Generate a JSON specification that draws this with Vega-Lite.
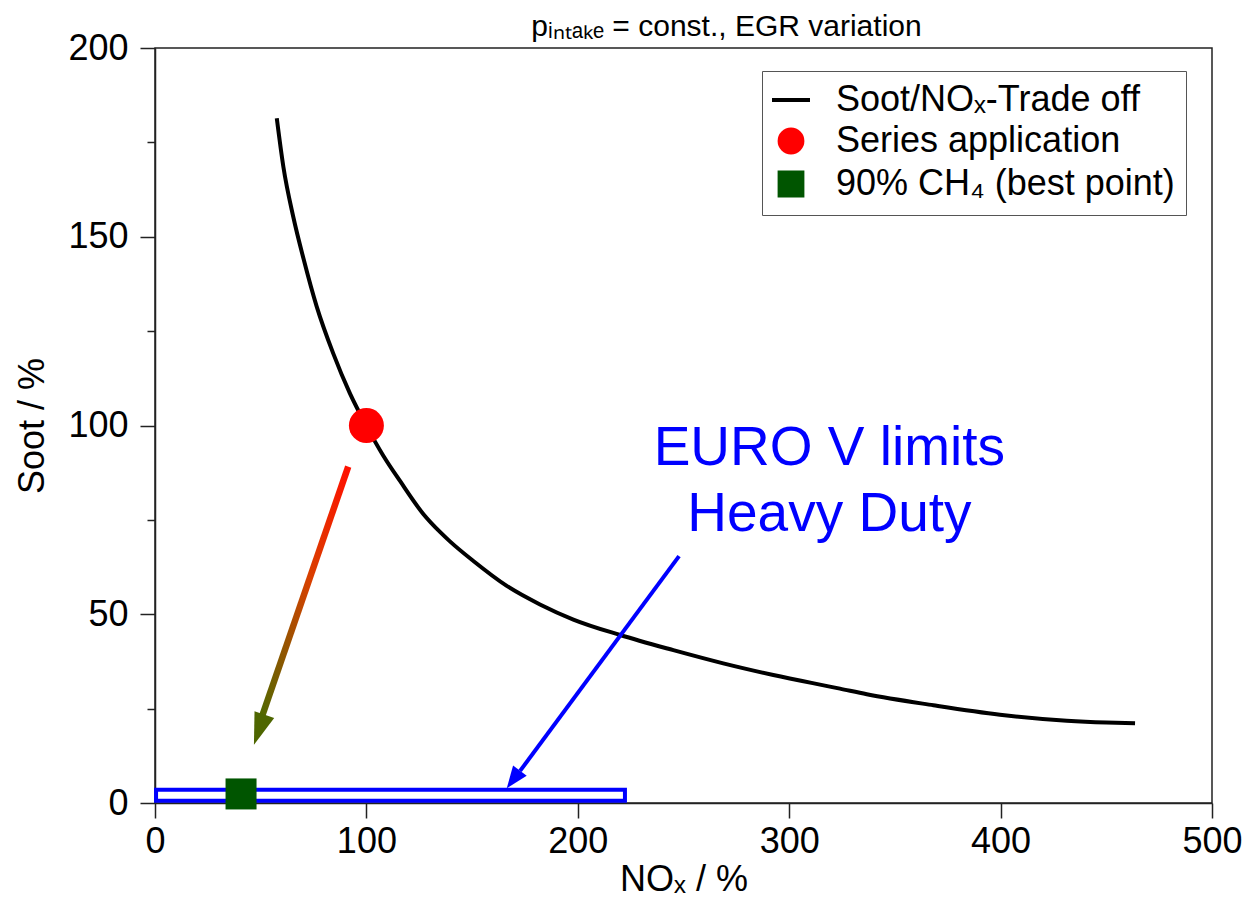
{
  "$schema": "https://vega.github.io/schema/vega-lite/v6.json",
  "width": 1057,
  "height": 755,
  "autosize": "none",
  "padding": {"left": 155, "top": 48, "right": 44, "bottom": 110},
  "background": "white",
  "config": {
    "font": "Liberation Sans",
    "view": {"stroke": "#222", "strokeWidth": 1.5}
  },
  "title": {
    "text": "pᵢₙₜₐₖₑ = const., EGR variation",
    "fontSize": 30,
    "fontWeight": "normal",
    "color": "black",
    "font": "Liberation Sans Narrow, Liberation Sans",
    "frame": "group",
    "baseline": "alphabetic",
    "offset": -36,
    "dx": 43
  },
  "datasets": {
    "curve": [
      {"nox": 57.6, "soot": 181.4, "series": "Soot/NOₓ-Trade off"},
      {"nox": 60.7, "soot": 168.6, "series": "Soot/NOₓ-Trade off"},
      {"nox": 65.4, "soot": 155.3, "series": "Soot/NOₓ-Trade off"},
      {"nox": 70.2, "soot": 144.3, "series": "Soot/NOₓ-Trade off"},
      {"nox": 76.5, "soot": 131.5, "series": "Soot/NOₓ-Trade off"},
      {"nox": 84.3, "soot": 119.1, "series": "Soot/NOₓ-Trade off"},
      {"nox": 92.2, "soot": 108.5, "series": "Soot/NOₓ-Trade off"},
      {"nox": 99.8, "soot": 100.1, "series": "Soot/NOₓ-Trade off"},
      {"nox": 108, "soot": 92.0, "series": "Soot/NOₓ-Trade off"},
      {"nox": 115.9, "soot": 85.3, "series": "Soot/NOₓ-Trade off"},
      {"nox": 127, "soot": 76.5, "series": "Soot/NOₓ-Trade off"},
      {"nox": 134.8, "soot": 71.8, "series": "Soot/NOₓ-Trade off"},
      {"nox": 139.5, "soot": 69.3, "series": "Soot/NOₓ-Trade off"},
      {"nox": 150.6, "soot": 64.1, "series": "Soot/NOₓ-Trade off"},
      {"nox": 166.4, "soot": 57.5, "series": "Soot/NOₓ-Trade off"},
      {"nox": 182.1, "soot": 52.6, "series": "Soot/NOₓ-Trade off"},
      {"nox": 197.9, "soot": 48.6, "series": "Soot/NOₓ-Trade off"},
      {"nox": 220, "soot": 44.5, "series": "Soot/NOₓ-Trade off"},
      {"nox": 245.2, "soot": 40.5, "series": "Soot/NOₓ-Trade off"},
      {"nox": 268.8, "soot": 37, "series": "Soot/NOₓ-Trade off"},
      {"nox": 292.5, "soot": 33.9, "series": "Soot/NOₓ-Trade off"},
      {"nox": 324, "soot": 30.3, "series": "Soot/NOₓ-Trade off"},
      {"nox": 336.7, "soot": 28.8, "series": "Soot/NOₓ-Trade off"},
      {"nox": 368.2, "soot": 25.9, "series": "Soot/NOₓ-Trade off"},
      {"nox": 399.7, "soot": 23.4, "series": "Soot/NOₓ-Trade off"},
      {"nox": 431.3, "soot": 21.8, "series": "Soot/NOₓ-Trade off"},
      {"nox": 450, "soot": 21.3, "series": "Soot/NOₓ-Trade off"},
      {"nox": 463.6, "soot": 21.1, "series": "Soot/NOₓ-Trade off"}
    ],
    "series_point": [
      {"nox": 100, "soot": 100, "series": "Series application"}
    ],
    "best_point": [
      {"nox": 40.7, "soot": 2.4, "series": "90% CH₄ (best point)"}
    ],
    "limit": [
      {"nox0": 0.5, "nox1": 222.3, "soot0": 0.6, "soot1": 3.5}
    ],
    "red_arrow": [
      {"nox": 91.4, "soot": 89.1},
      {"nox": 50.6, "soot": 22.9}
    ],
    "red_tip": [{"nox": 46.8, "soot": 15.4}],
    "blue_arrow": [
      {"nox": 247.9, "soot": 65.4},
      {"nox": 172.7, "soot": 8.5}
    ],
    "blue_tip": [{"nox": 166.4, "soot": 3.9}],
    "note": [
      {"nox": 319, "soot": 89.5, "label": ["EURO V limits", "Heavy Duty"]}
    ]
  },
  "encoding": {
    "x": {
      "field": "nox",
      "type": "quantitative",
      "scale": {"domain": [0, 500], "nice": false, "zero": false},
      "axis": {
        "title": "NOₓ / %",
        "values": [0, 100, 200, 300, 400, 500],
        "grid": false,
        "labelFontSize": 36,
        "labelColor": "black",
        "labelFont": "Liberation Sans",
        "labelPadding": 6,
        "labelFlush": false,
        "tickSize": 15,
        "tickColor": "#222",
        "tickWidth": 1.5,
        "domainColor": "#222",
        "domainWidth": 1.5,
        "titleFontSize": 36,
        "titleFont": "Liberation Sans",
        "titleFontWeight": "normal",
        "titleColor": "black",
        "titlePadding": 3
      }
    },
    "y": {
      "field": "soot",
      "type": "quantitative",
      "scale": {"domain": [0, 200], "nice": false, "zero": false},
      "axis": {
        "title": "Soot / %",
        "values": [0, 25, 50, 75, 100, 125, 150, 175, 200],
        "labelExpr": "datum.value % 50 === 0 ? datum.label : ''",
        "grid": false,
        "labelFontSize": 36,
        "labelColor": "black",
        "labelFont": "Liberation Sans",
        "labelPadding": 12,
        "labelFlush": false,
        "tickSize": {"condition": {"test": "datum.value % 50 === 0", "value": 15}, "value": 8},
        "tickColor": "#222",
        "tickWidth": 1.5,
        "domainColor": "#222",
        "domainWidth": 1.5,
        "titleFontSize": 36,
        "titleFont": "Liberation Sans",
        "titleFontWeight": "normal",
        "titleColor": "black",
        "titlePadding": 16
      }
    }
  },
  "layer": [
    {
      "data": {"name": "curve"},
      "mark": {"type": "line", "strokeWidth": 4, "interpolate": "monotone"},
      "encoding": {
        "color": {
          "field": "series",
          "type": "nominal",
          "scale": {
            "domain": ["Soot/NOₓ-Trade off", "Series application", "90% CH₄ (best point)"],
            "range": ["black", "#ff0000", "#005500"]
          },
          "legend": {
            "title": null,
            "orient": "none",
            "legendX": 607,
            "legendY": 23,
            "labelFontSize": 36,
            "labelFont": "Liberation Sans",
            "labelColor": "black",
            "labelLimit": 600,
            "labelOffset": 27,
            "strokeColor": "#555",
            "fillColor": "white",
            "padding": 11,
            "rowPadding": 3,
            "symbolSize": 1444,
            "symbolStrokeWidth": 4,
            "encode": {
              "symbols": {
                "update": {
                  "shape": {"signal": "datum.value === 'Soot/NOₓ-Trade off' ? 'stroke' : (datum.value === 'Series application' ? 'circle' : 'square')"},
                  "fill": {"signal": "datum.value === 'Soot/NOₓ-Trade off' ? 'transparent' : (datum.value === 'Series application' ? '#ff0000' : '#005500')"},
                  "stroke": {"signal": "datum.value === 'Soot/NOₓ-Trade off' ? 'black' : 'transparent'"},
                  "size": {"signal": "datum.value === 'Soot/NOₓ-Trade off' ? 1444 : 520"},
                  "strokeWidth": {"value": 4},
                  "opacity": {"value": 1},
                  "fillOpacity": {"value": 1},
                  "strokeOpacity": {"value": 1}
                }
              }
            }
          }
        }
      }
    },
    {
      "data": {"name": "limit"},
      "mark": {"type": "rect", "fill": "white", "fillOpacity": 0, "stroke": "#0000ff", "strokeWidth": 4},
      "encoding": {
        "x": {"field": "nox0", "type": "quantitative"},
        "x2": {"field": "nox1"},
        "y": {"field": "soot0", "type": "quantitative"},
        "y2": {"field": "soot1"}
      }
    },
    {
      "data": {"name": "red_arrow"},
      "mark": {
        "type": "line",
        "strokeWidth": 6.5,
        "strokeCap": "butt",
        "color": {
          "gradient": "linear",
          "x1": 1, "y1": 0, "x2": 0, "y2": 1,
          "stops": [
            {"offset": 0, "color": "#ff1000"},
            {"offset": 0.45, "color": "#d84000"},
            {"offset": 1, "color": "#526800"}
          ]
        }
      },
      "encoding": {}
    },
    {
      "data": {"name": "red_tip"},
      "mark": {
        "type": "point",
        "filled": true,
        "opacity": 1,
        "color": "#4e6600",
        "shape": "M0,0 L-0.65,-2 L0.65,-2 Z",
        "size": 1024,
        "angle": 19
      },
      "encoding": {}
    },
    {
      "data": {"name": "blue_arrow"},
      "mark": {"type": "line", "strokeWidth": 4, "color": "#0000ff", "strokeCap": "butt"},
      "encoding": {}
    },
    {
      "data": {"name": "blue_tip"},
      "mark": {
        "type": "point",
        "filled": true,
        "opacity": 1,
        "color": "#0000ff",
        "shape": "M0,0 L-0.77,-2 L0.77,-2 Z",
        "size": 484,
        "angle": 36.6
      },
      "encoding": {}
    },
    {
      "data": {"name": "series_point"},
      "mark": {"type": "point", "shape": "circle", "filled": true, "opacity": 1, "size": 1225},
      "encoding": {
        "color": {"field": "series", "type": "nominal"}
      }
    },
    {
      "data": {"name": "best_point"},
      "mark": {"type": "point", "shape": "square", "filled": true, "opacity": 1, "size": 961},
      "encoding": {
        "color": {"field": "series", "type": "nominal"}
      }
    },
    {
      "data": {"name": "note"},
      "mark": {
        "type": "text",
        "font": "Liberation Sans",
        "fontSize": 55,
        "color": "#0000ff",
        "align": "center",
        "baseline": "alphabetic",
        "lineHeight": 66
      },
      "encoding": {
        "text": {"field": "label"}
      }
    }
  ]
}
